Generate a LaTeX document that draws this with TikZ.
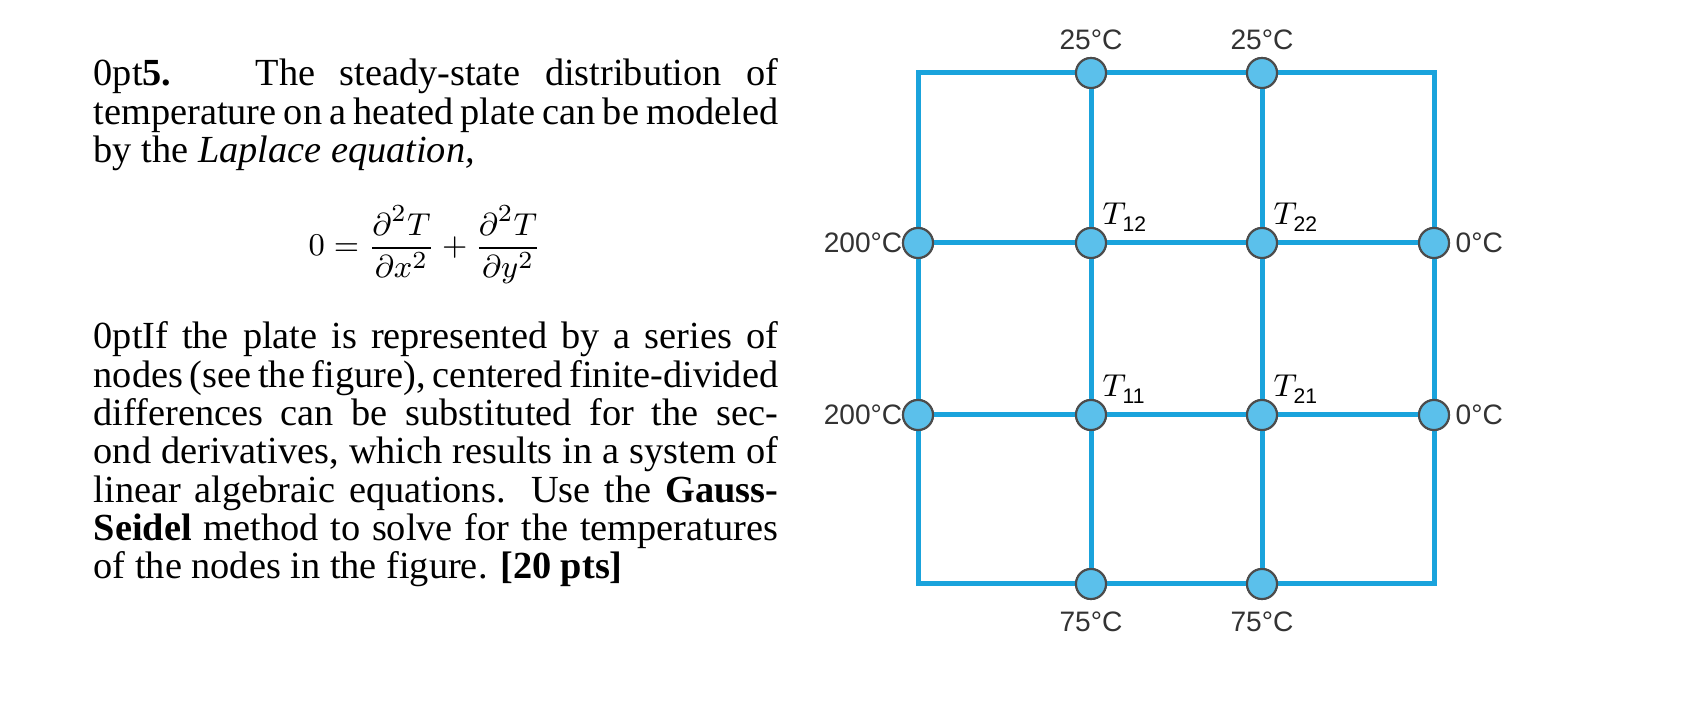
\documentclass[tikz,border=0pt]{standalone}
\usepackage{fontspec}
\setmainfont{Liberation Serif}
\newfontfamily\lsans{Liberation Sans}
\begin{document}
\begin{tikzpicture}[x=0.01cm,y=-0.01cm,
  wire/.style={draw=wirec,line width=5*0.01cm},
  pt/.style={circle,minimum size=30*0.01cm,inner sep=0pt,fill=nodef,draw=black!70,line width=0.6pt},
  lab/.style={font=\lsans\fontsize{8}{10}\selectfont,text=black!80,inner sep=0pt},
  tl/.style={font=\fontsize{9}{10}\selectfont,inner sep=0pt,anchor=south west},
  para/.style={anchor=north west,inner sep=0pt,text width=6.84cm,align=justify,font=\fontsize{10.9}{10.9}\selectfont\hyphenpenalty=10000\exhyphenpenalty=10000}]
\definecolor{wirec}{HTML}{1AA3DC}
\definecolor{nodef}{HTML}{5BC0EB}
\useasboundingbox (0,0) rectangle (1684,719);
% text
\node[para] (p1) at (93,58) {\textbf{5.}\hspace{2.2em}The steady-state distribution of temperature on a heated plate can be modeled by the \textit{Laplace equation,}};
\node[inner sep=0pt,font=\fontsize{9.5}{12}\selectfont] (eq) at (425,245) {$\displaystyle 0=\frac{\partial^2T}{\partial x^2}+\frac{\partial^2T}{\partial y^2}$};
\node[para] (p2) at (93,321) {If the plate is represented by a series of nodes (see the figure), centered finite-divided differences can be substituted for the second derivatives, which results in a system of linear algebraic equations. Use the \textbf{Gauss-Seidel} method to solve for the temperatures of the nodes in the figure. \textbf{[20 pts]}};
% grid coordinates
\coordinate (c1) at (918,73); \coordinate (c2) at (1434,73);
\coordinate (c3) at (1434,584); \coordinate (c4) at (918,584);
\draw[wire] (c1) -- (c2) -- (c3) -- (c4) -- cycle;
\node[pt] (t1) at (1091,73) {}; \node[pt] (t2) at (1262,73) {};
\node[pt] (b1) at (1091,584) {}; \node[pt] (b2) at (1262,584) {};
\node[pt] (l2) at (918,243) {}; \node[pt] (l1) at (918,415) {};
\node[pt] (r2) at (1434,243) {}; \node[pt] (r1) at (1434,415) {};
\node[pt] (T12) at (1091,243) {}; \node[pt] (T22) at (1262,243) {};
\node[pt] (T11) at (1091,415) {}; \node[pt] (T21) at (1262,415) {};
\draw[wire] (t1) -- (T12) -- (T11) -- (b1);
\draw[wire] (t2) -- (T22) -- (T21) -- (b2);
\draw[wire] (l2) -- (T12) -- (T22) -- (r2);
\draw[wire] (l1) -- (T11) -- (T21) -- (r1);
\foreach \n in {t1,t2,b1,b2,l1,l2,r1,r2,T11,T12,T21,T22}{\node[pt] at (\n) {};}
% labels
\node[lab] (a1) at (1091,40) {25°C}; \node[lab] (a2) at (1262,40) {25°C};
\node[lab] (a3) at (1091,622) {75°C}; \node[lab] (a4) at (1262,622) {75°C};
\node[lab,anchor=east] (a5) at (903,243) {200°C}; \node[lab,anchor=east] (a6) at (903,415) {200°C};
\node[lab,anchor=west] (a7) at (1455,243) {0°C}; \node[lab,anchor=west] (a8) at (1455,415) {0°C};
\node[tl] (n12) at (1102,232) {$T$\kern-1pt{\lsans\fontsize{6}{7}\selectfont\raisebox{-2pt}{12}}};
\node[tl] (n22) at (1273,232) {$T$\kern-1pt{\lsans\fontsize{6}{7}\selectfont\raisebox{-2pt}{22}}};
\node[tl] (n11) at (1102,404) {$T$\kern-1pt{\lsans\fontsize{6}{7}\selectfont\raisebox{-2pt}{11}}};
\node[tl] (n21) at (1273,404) {$T$\kern-1pt{\lsans\fontsize{6}{7}\selectfont\raisebox{-2pt}{21}}};
\end{tikzpicture}
\end{document}
